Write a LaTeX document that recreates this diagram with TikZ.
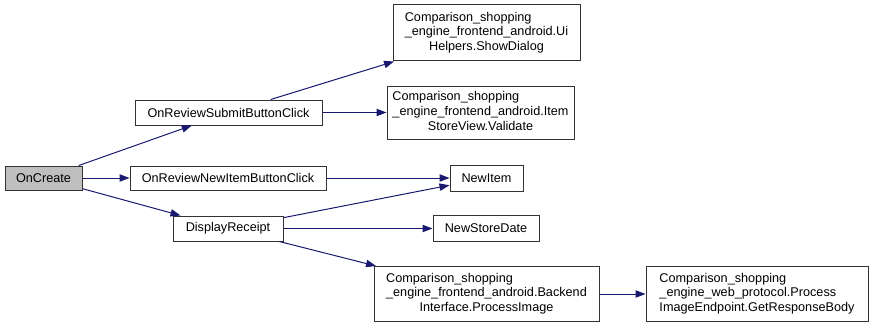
\documentclass[tikz,border=0pt]{standalone}
\usepackage{fontspec}
\setmainfont{Liberation Sans}
\usetikzlibrary{arrows.meta}

% three-line labels: first lines flush left, last line centred
\newcommand{\fnlabel}[3]{%
  \begin{tabular}{@{}l@{}}#1\\#2\\\multicolumn{1}{@{}c@{}}{#3}\end{tabular}}

\begin{document}
\begin{tikzpicture}[x=0.75pt, y=-0.75pt,
    fn/.style={draw=black!80, line width=0.75pt, fill=white, inner sep=0pt,
               font=\fontsize{9.5}{11.2}\selectfont},
    call/.style={draw=edgeColour, line width=0.75pt,
                 -{Triangle[length=7.5pt, width=5.5pt]}}]
    \definecolor{edgeColour}{HTML}{191970}
    \definecolor{fillColourRoot}{HTML}{BFBFBF}

    \def\px{0.75pt}

    % Frame
    \useasboundingbox (0,0) rectangle (873,328);

    % Caller
    \node[fn, fill=fillColourRoot, minimum width=77*\px, minimum height=24*\px] (onCreate) at (43.5,178) {OnCreate};

    % First level
    \node[fn, minimum width=187*\px, minimum height=25*\px] (submitClick) at (228.5,112.5) {OnReviewSubmitButtonClick};
    \node[fn, minimum width=196*\px, minimum height=24*\px] (newItemClick) at (228,178) {OnReviewNewItemButtonClick};
    \node[fn, minimum width=110*\px, minimum height=25*\px] (displayReceipt) at (228,228.5) {DisplayReceipt};

    % Second level
    \node[fn, minimum width=187*\px, minimum height=56*\px] (showDialog) at (486.5,33)
        {\fnlabel{Comparison\_shopping}{\_engine\_frontend\_android.Ui}{Helpers.ShowDialog}};
    \node[fn, minimum width=187*\px, minimum height=53*\px] (validate) at (480.5,112.5)
        {\fnlabel{Comparison\_shopping}{\_engine\_frontend\_android.Item}{StoreView.Validate}};
    \node[fn, minimum width=73*\px, minimum height=26*\px] (newItem) at (486.5,178) {NewItem};
    \node[fn, minimum width=106*\px, minimum height=26*\px] (newStoreDate) at (486,228.5) {NewStoreDate};
    \node[fn, minimum width=225*\px, minimum height=55*\px] (processImage) at (486.5,294)
        {\fnlabel{Comparison\_shopping}{\_engine\_frontend\_android.Backend}{Interface.ProcessImage}};

    % Third level
    \node[fn, minimum width=222*\px, minimum height=55*\px] (responseBody) at (757,294)
        {\fnlabel{Comparison\_shopping}{\_engine\_web\_protocol.Process}{ImageEndpoint.GetResponseBody}};

    % Calls
    \draw[call] (onCreate) -- (submitClick);
    \draw[call] (onCreate) -- (newItemClick);
    \draw[call] (onCreate) -- (displayReceipt);
    \draw[call] (submitClick) -- (showDialog);
    \draw[call] (submitClick) -- (validate);
    \draw[call] (newItemClick) -- (newItem);
    \draw[call] (displayReceipt) -- (newItem);
    \draw[call] (displayReceipt) -- (newStoreDate);
    \draw[call] (displayReceipt) -- (processImage);
    \draw[call] (processImage) -- (responseBody);

\end{tikzpicture}
\end{document}
